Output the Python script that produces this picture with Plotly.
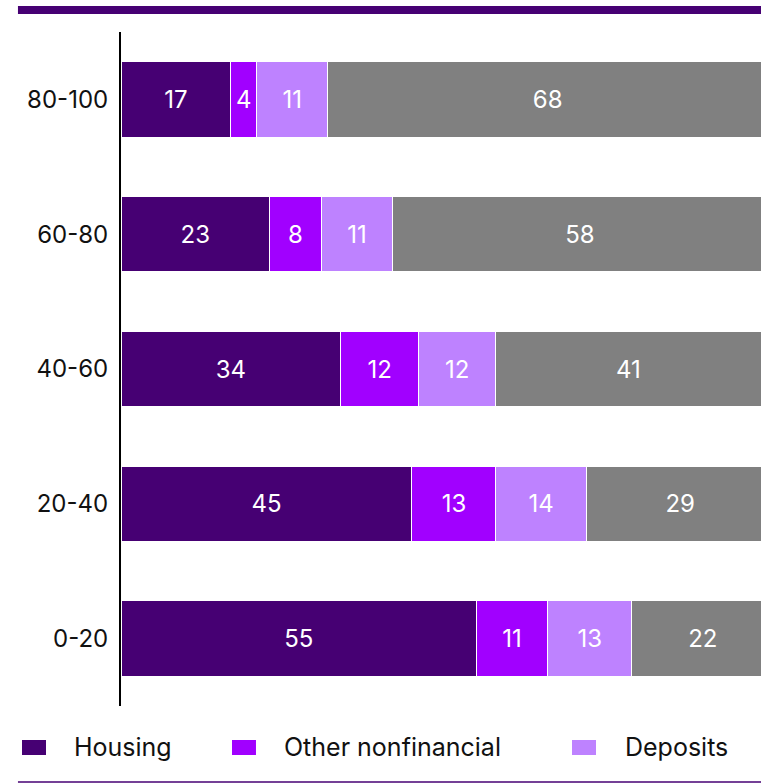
import plotly.graph_objects as go

# Income groups (bottom to top as drawn)
groups = ["0-20", "20-40", "40-60", "60-80", "80-100"]

housing = [55, 45, 34, 23, 17]
other_nonfin = [11, 13, 12, 8, 4]
deposits = [13, 14, 12, 11, 11]
other_fin = [22, 29, 41, 58, 68]

series = [
    ("Housing", housing, "#460073"),
    ("Other nonfinancial", other_nonfin, "#A100FF"),
    ("Deposits", deposits, "#BE82FF"),
    ("Other financial", other_fin, "#808080"),
]

FONT = "Inter, Roboto, sans-serif"

fig = go.Figure()
for name, vals, col in series:
    fig.add_trace(go.Bar(
        y=groups, x=vals, name=name, orientation="h",
        marker=dict(color=col, line=dict(color="white", width=1)),
        text=vals, textposition="inside", insidetextanchor="middle",
        textangle=0, textfont=dict(color="white", size=24, family=FONT),
        showlegend=False, cliponaxis=True,
    ))

fig.update_layout(
    barmode="stack",
    bargap=0.44,
    width=761, height=783,
    margin=dict(l=121, r=0, t=32, b=77),
    paper_bgcolor="white", plot_bgcolor="white",
    font=dict(family=FONT, color="#111111"),
    uniformtext=dict(minsize=24, mode="show"),
)
fig.update_xaxes(range=[0, 99], visible=False, showgrid=False, zeroline=False)
fig.update_yaxes(
    showline=True, linecolor="black", linewidth=2,
    showgrid=False, ticks="", ticklabelstandoff=6,
    tickfont=dict(size=24, family=FONT, color="#111111"),
)

# top and bottom rules
fig.add_shape(type="line", xref="paper", yref="paper",
              x0=-0.161, x1=1.0, y0=1.0326, y1=1.0326,
              line=dict(color="#460073", width=8))
fig.add_shape(type="line", xref="paper", yref="paper",
              x0=-0.161, x1=1.0, y0=-0.1128, y1=-0.1128,
              line=dict(color="#460073", width=1.5))

# custom legend
legend_items = [
    ("Housing", "#460073", -0.1547, -0.1172, -0.0766),
    ("Other nonfinancial", "#A100FF", 0.1734, 0.2109, 0.2516),
    ("Deposits", "#BE82FF", 0.7047, 0.7422, 0.7844),
]
for label, col, mx0, mx1, tx in legend_items:
    fig.add_shape(type="rect", xref="paper", yref="paper",
                  x0=mx0, x1=mx1, y0=-0.0727, y1=-0.0504,
                  fillcolor=col, line=dict(width=0))
    fig.add_annotation(xref="paper", yref="paper", x=tx, y=-0.0615,
                       text=label, showarrow=False, xanchor="left",
                       yanchor="middle",
                       font=dict(size=25, family=FONT, color="#111111"))

# drop the default page margin so the figure sits at the window's corner
fig.write_html("out.html", config={"displayModeBar": False},
               post_script="document.body.style.margin='0';")
